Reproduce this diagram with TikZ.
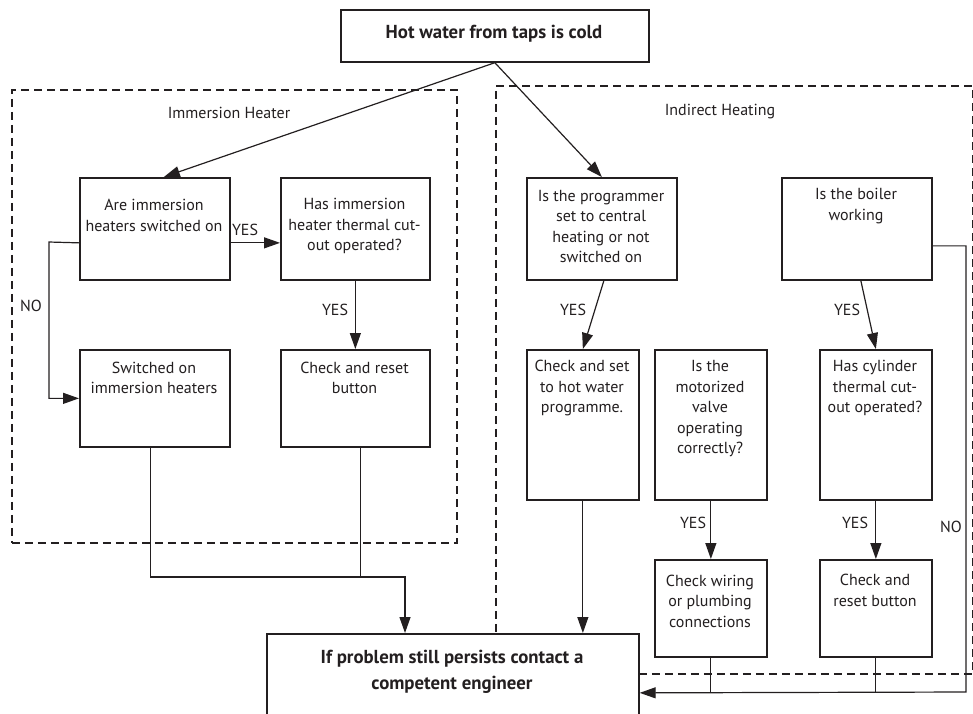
\documentclass[tikz,border=0pt]{standalone}
\usepackage{fontspec}
\setmainfont{PT Sans}
\usetikzlibrary{arrows.meta}
\definecolor{ink}{RGB}{35,31,32}
\begin{document}
\begin{tikzpicture}[x=1pt,y=-1pt,
  every node/.style={text=ink},
  box/.style 2 args={draw=ink,line width=1.7pt,fill=white,minimum width=#1pt,minimum height=#2pt,inner sep=0pt,anchor=north west},
  dbox/.style 2 args={draw=ink,line width=1.6pt,dash pattern=on 8pt off 5pt,minimum width=#1pt,minimum height=#2pt,inner sep=0pt,anchor=north west},
  txt/.style={align=center,inner sep=0pt,font=\fontsize{16}{20.5}\selectfont},
  btxt/.style={align=center,inner sep=0pt,font=\fontsize{18.8}{26}\selectfont\bfseries},
  lbl/.style={inner sep=0pt,font=\fontsize{16}{19}\selectfont},
  conn/.style={draw=ink,line width=1.2pt},
  arr/.style={conn,-{Triangle[length=16pt,width=11pt]}}]
\useasboundingbox (0,0) rectangle (973,713);
% dashed groups
\node[dbox={445}{453}] (LG) at (11,89) {};
\node[dbox={477}{588}] (RG) at (495,85) {};
\node[lbl] (LGt) at (229,113) {Immersion Heater};
\node[lbl] (RGt) at (720,112) {Indirect Heating};
% top
\node[box={308}{52}] (T) at (340,9) {};
\node[btxt] (Tt) at (494,34) {Hot water from taps is cold};
% left group
\node[box={150}{102}] (A) at (79,177) {};
\node[txt] (At) at (154,215.5) {Are immersion\\heaters switched on};
\node[box={149}{102}] (B) at (280,177) {};
\node[txt] (Bt) at (354.5,226) {Has immersion\\heater thermal cut-\\out operated?};
\node[box={150}{97}] (C) at (79,349) {};
\node[txt] (Ct) at (154,378) {Switched on\\immersion heaters};
\node[box={149}{97}] (D) at (280,349) {};
\node[txt] (Dt) at (354.5,378) {Check and reset\\button};
% right group
\node[box={150}{102}] (F) at (526,177) {};
\node[txt] (Ft) at (601,226.5) {Is the programmer\\set to central\\heating or not\\switched on};
\node[box={150}{102}] (G) at (781,177) {};
\node[txt] (Gt) at (856,206) {Is the boiler\\working};
\node[box={112}{150}] (H) at (526,349) {};
\node[txt] (Ht) at (582,388) {Check and set\\to hot water\\programme.};
\node[box={112}{150}] (I) at (654,349) {};
\node[txt] (It) at (710,409) {Is the\\motorized\\valve\\operating\\correctly?};
\node[box={112}{150}] (J) at (819,349) {};
\node[txt] (Jt) at (875,388) {Has cylinder\\thermal cut-\\out operated?};
\node[box={112}{97}] (K) at (654,559) {};
\node[txt] (Kt) at (710,601) {Check wiring\\or plumbing\\connections};
\node[box={112}{97}] (L) at (819,559) {};
\node[txt] (Lt) at (875,590.5) {Check and\\reset button};
% bottom
\node[box={372}{118}] (E) at (266,633) {};
\node[btxt] (Et) at (452,672) {If problem still persists contact a\\competent engineer};
% connectors
\draw[arr] (T.south) -- ([xshift=9pt]A.north);
\draw[arr] (T.south) -- (F.north);
\draw[arr] ([yshift=-14pt]A.east) -- ([yshift=-14pt]B.west);
\node[lbl] (y1) at (245,230) {YES};
\coordinate (nA) at (49,242);
\draw[arr] ([yshift=-14pt]A.west) -- (nA) |- (C.west);
\node[lbl] (n1) at (31,306) {NO};
\draw[arr] (B.south) -- (D.north);
\node[lbl] (y2) at (335,310) {YES};
\coordinate (J1) at (405,577);
\draw[arr] ([xshift=-4pt]C.south) |- (J1) -- (J1 |- E.north);
\draw[conn] ([xshift=5.5pt]D.south) -- ([xshift=5.5pt]D.south |- J1);
\draw[arr] ([xshift=2pt]F.south) -- (H.north);
\node[lbl] (y3) at (573,310) {YES};
\draw[arr] ([xshift=4pt]G.south) -- (J.north);
\node[lbl] (y4) at (847,310) {YES};
\draw[arr] (I.south) -- (K.north);
\node[lbl] (y5) at (693,523) {YES};
\draw[arr] (J.south) -- (L.north);
\node[lbl] (y6) at (855,523) {YES};
\draw[arr] (H.south) -- (H.south |- E.north);
\coordinate (gN) at (966,692);
\draw[arr] ([yshift=-17pt]G.east) -| (gN) -- (E.east);
\node[lbl] (n2) at (951,527) {NO};
\draw[conn] (K.south) -- (K.south |- E.east);
\draw[conn] (L.south) -- (L.south |- E.east);
\end{tikzpicture}
\end{document}
